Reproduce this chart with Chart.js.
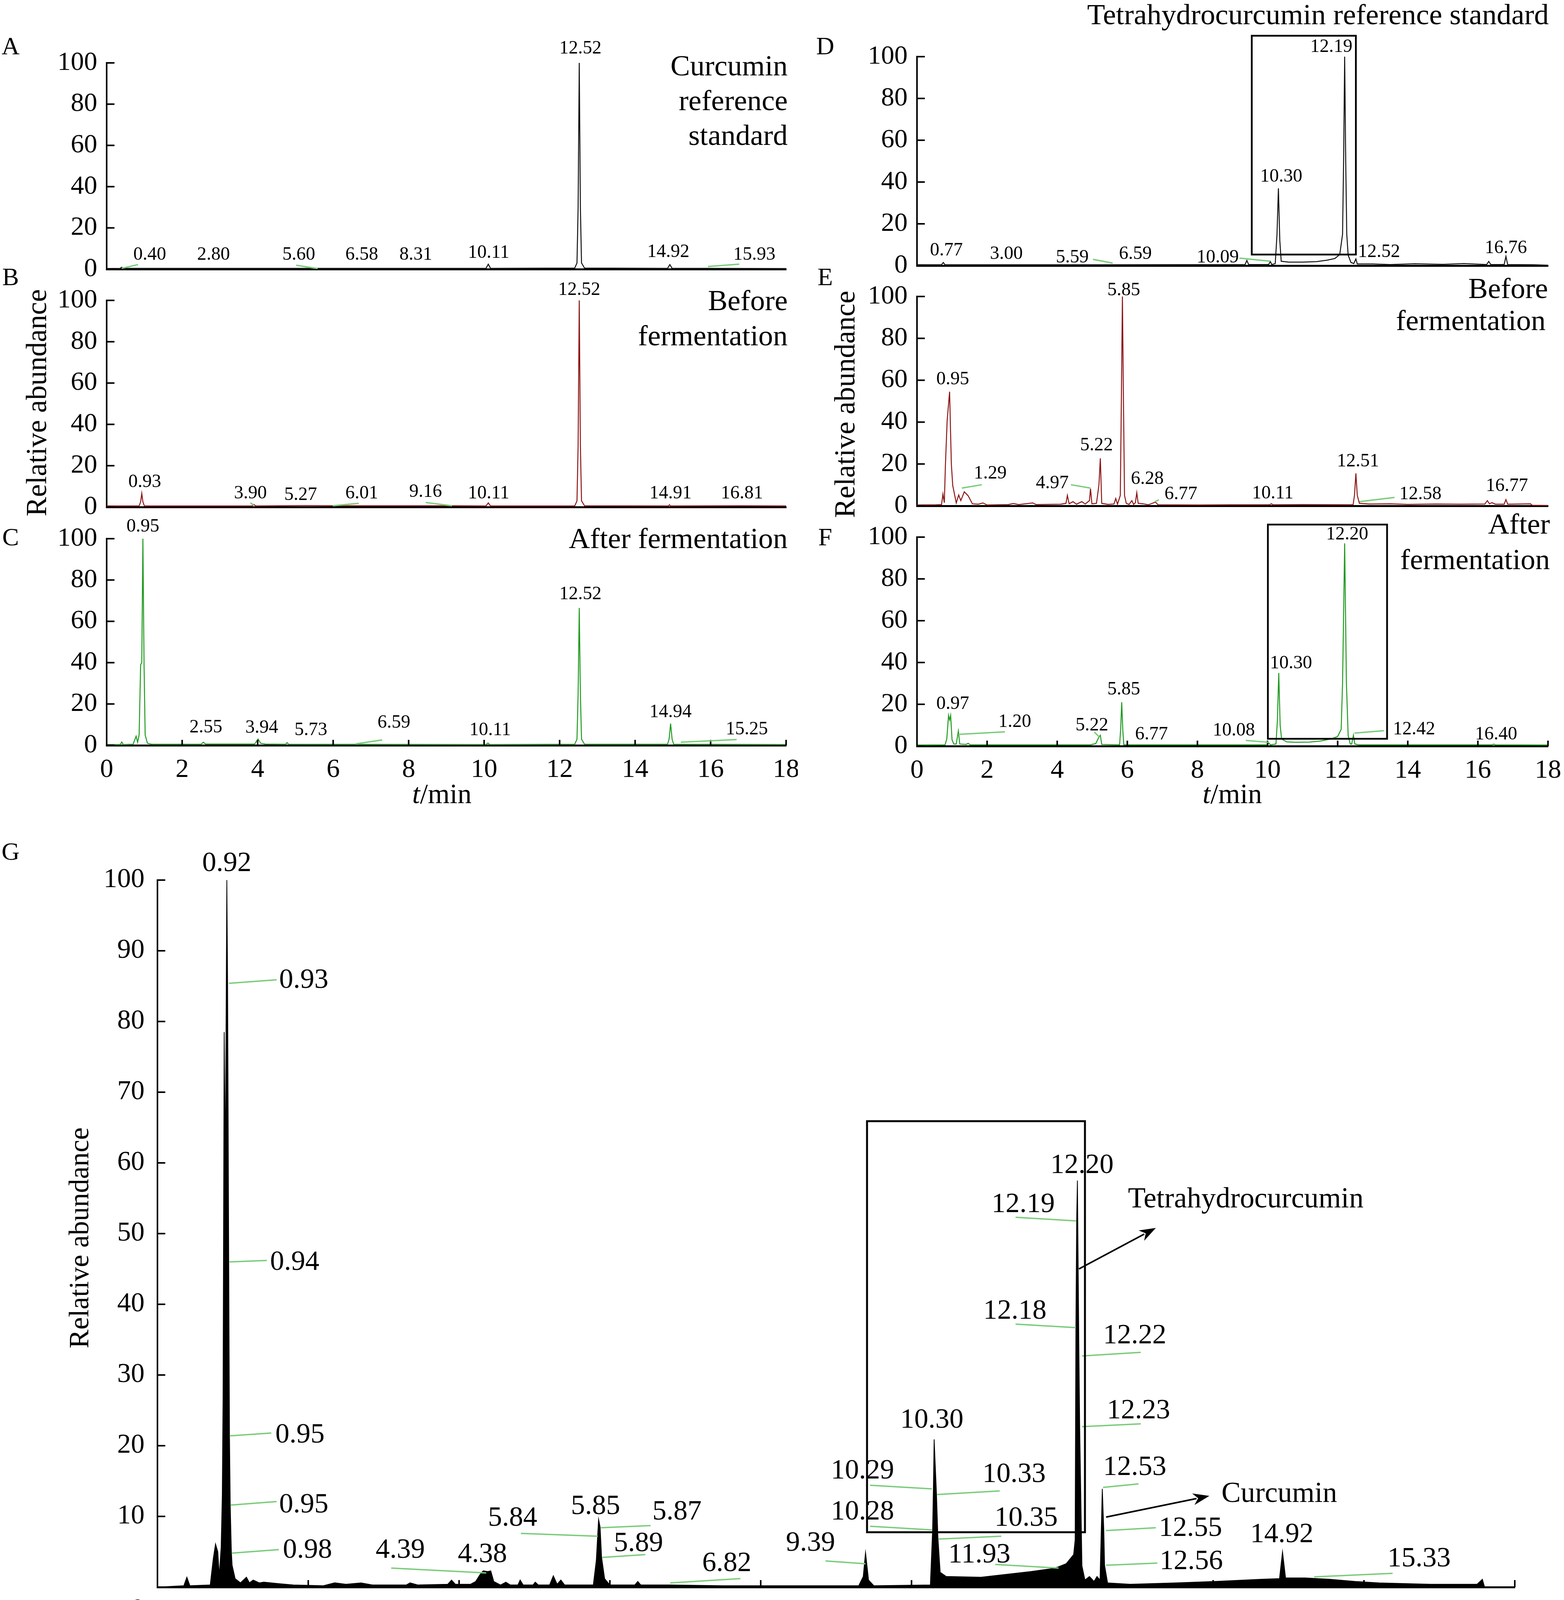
<!DOCTYPE html>
<html>
<head>
<meta charset="utf-8">
<script src="https://cdn.jsdelivr.net/npm/chart.js@4.4.1/dist/chart.umd.min.js"></script>
<style>
  body { margin: 0; background: #fff; width: 4003px; height: 4256px; position: relative; overflow: hidden; }
  canvas { position: absolute; }
</style>
</head>
<body>
<script>
'use strict';

// ---- data: traces as [t (min), relative abundance] ----
var traceA = [[0,0.3],[0.36,0.4],[0.40,0.9],[0.44,0.4],[2.8,0.4],[5.6,0.4],[6.58,0.4],[8.31,0.4],[10.05,0.4],[10.11,2.4],[10.17,0.4],
  [12.40,0.5],[12.46,3],[12.49,30],[12.52,100],[12.55,30],[12.58,3],[12.66,0.5],[14.86,0.4],[14.92,2.2],[14.98,0.4],[15.93,0.4],[18,0.3]];
var traceB = [[0,0.5],[0.86,0.5],[0.90,2.5],[0.93,6.6],[0.96,2.5],[1.0,0.5],[3.85,0.5],[3.90,1.2],[3.95,0.5],[5.27,0.7],[6.01,0.6],[9.16,0.6],
  [10.05,0.5],[10.11,2.0],[10.17,0.5],[12.40,0.5],[12.46,3],[12.49,30],[12.52,100],[12.55,30],[12.58,3],[12.66,0.6],[14.88,0.5],[14.91,1.1],
  [14.94,0.5],[16.81,0.6],[18,0.5]];
var traceC = [[0,0.4],[0.36,0.4],[0.40,1.6],[0.44,0.4],[0.70,0.5],[0.78,4.4],[0.82,1.5],[0.86,5],[0.90,39],[0.93,40],[0.96,100],[0.99,40],
  [1.02,5],[1.08,1],[1.2,0.5],[2.50,0.5],[2.56,1.5],[2.62,0.6],[3.92,0.6],[4.01,3.0],[4.08,1],[4.2,0.6],[4.74,0.5],[4.78,1.3],[4.82,0.5],
  [10.05,0.4],[10.10,1.1],[10.15,0.4],[12.40,0.5],[12.46,3],[12.49,25],[12.52,66.5],[12.55,25],[12.58,3],[12.66,0.5],[14.86,0.5],[14.90,3],
  [14.94,10.5],[14.98,3],[15.02,0.5],[18,0.4]];
var traceD = [[0,0.4],[0.70,0.4],[0.75,1.5],[0.80,0.4],[3.0,0.4],[5.59,0.4],[9.36,0.5],[9.41,2.5],[9.46,0.5],[10.03,0.5],[10.08,2],[10.12,0.5],
  [10.22,1],[10.27,15],[10.31,37],[10.35,12],[10.39,2.1],[10.6,1.7],[11.0,1.7],[11.4,1.9],[11.7,2.6],[11.92,3.4],[12.06,5.3],[12.14,15],
  [12.17,50],[12.20,100],[12.23,50],[12.26,15],[12.30,5],[12.38,1.5],[12.46,1],[12.52,3.2],[12.56,0.8],[13.0,0.8],[13.5,0.5],[14.2,0.9],
  [15.0,0.6],[15.6,1.0],[16.0,0.7],[16.25,0.5],[16.31,2],[16.37,0.5],[16.75,0.5],[16.80,4.4],[16.85,0.5],[17.6,0.4],[18,0.2]];
var traceE = [[0,0.4],[0.55,0.5],[0.70,0.6],[0.74,5.6],[0.78,1.5],[0.81,19],[0.86,40.6],[0.93,54.5],[0.98,20],[1.02,9.7],[1.12,1.4],[1.19,5.2],
  [1.25,2.5],[1.35,6.7],[1.46,4.8],[1.58,1.0],[1.75,0.8],[1.88,1.4],[2.0,0.4],[2.6,0.6],[2.75,1.1],[2.9,0.6],[3.3,1.4],[3.4,0.6],[3.7,0.7],
  [4.1,0.8],[4.25,1.2],[4.29,5.0],[4.34,1.0],[4.45,2.0],[4.55,0.8],[4.70,2.0],[4.80,0.9],[4.92,2.5],[4.95,8.2],[4.99,1.0],[5.12,1.2],[5.19,10],
  [5.23,22.7],[5.27,1.2],[5.45,0.7],[5.62,0.9],[5.67,3.5],[5.72,0.8],[5.80,5],[5.83,50],[5.86,100],[5.89,50],[5.92,5],[5.97,1.2],[6.05,0.7],
  [6.13,2.5],[6.18,0.7],[6.23,1.5],[6.27,6.3],[6.31,1.2],[6.45,1.0],[6.6,0.5],[6.80,1.8],[6.88,0.5],[8.0,0.4],[9.0,0.5],[10.05,0.5],[10.11,1.0],
  [10.16,0.5],[11.0,0.6],[12.44,0.5],[12.48,5],[12.52,15.5],[12.56,5],[12.62,1.2],[12.9,0.9],[13.5,1.0],[14.0,0.7],[14.8,0.9],[15.5,0.8],
  [16.2,0.9],[16.27,2.5],[16.33,1.0],[16.40,1.5],[16.5,0.8],[16.75,0.8],[16.80,3.0],[16.85,0.8],[17.5,1.0],[17.55,0.3],[18,0.2]];
var traceF = [[0,0.5],[0.80,0.6],[0.85,3.4],[0.90,14.7],[0.93,12.5],[0.96,14.7],[1.00,3],[1.05,1.0],[1.12,1.0],[1.18,7.2],[1.22,1.0],[1.40,0.8],
  [1.46,1.3],[1.52,0.6],[4.95,0.6],[5.10,1.2],[5.18,4],[5.23,5.2],[5.27,0.8],[5.78,0.6],[5.81,8],[5.84,21],[5.87,8],[5.90,0.6],[10.0,0.6],
  [10.04,1.5],[10.08,0.6],[10.24,1.0],[10.28,12],[10.32,35],[10.36,10],[10.40,3.4],[10.55,2.0],[10.8,1.8],[11.2,1.9],[11.5,2.4],[11.8,3.4],
  [12.0,4.6],[12.1,8],[12.14,30],[12.20,97],[12.25,30],[12.30,5],[12.36,1.0],[12.40,1.0],[12.45,5.2],[12.49,1.0],[12.6,0.6],[16.40,0.6],
  [16.45,0.9],[16.50,0.6],[18,0.5]];
var traceG = [[0,0],[0.35,0.2],[0.39,1.4],[0.43,0.2],[0.70,0.3],[0.74,4],[0.77,6.1],[0.80,5.0],[0.82,1.6],[0.845,5.7],[0.86,13],[0.87,26.8],
  [0.885,78.5],[0.90,59],[0.92,100],[0.93,85.6],[0.945,46],[0.955,21.5],[0.965,11.6],[0.98,5],[0.99,3.1],[1.03,1.2],[1.10,0.6],[1.18,1.4],
  [1.22,0.6],[1.27,1.0],[1.35,0.6],[1.41,0.7],[1.6,0.5],[1.8,0.3],[2.2,0.2],[2.35,0.6],[2.5,0.4],[2.7,0.6],[2.85,0.3],[3.3,0.3],[3.35,0.6],
  [3.45,0.3],[3.85,0.4],[3.9,1.0],[3.95,0.4],[4.15,0.4],[4.22,0.8],[4.28,1.8],[4.32,2.3],[4.38,2.2],[4.42,2.3],[4.46,0.8],[4.55,0.3],[4.62,0.7],
  [4.68,0.3],[4.78,0.3],[4.81,1.0],[4.85,0.3],[4.98,0.3],[5.01,0.7],[5.05,0.3],[5.2,0.3],[5.25,1.6],[5.30,0.4],[5.35,1.0],[5.40,0.3],[5.78,0.3],
  [5.82,3.8],[5.85,9.6],[5.87,8.5],[5.89,4.2],[5.93,1.2],[6.0,0.3],[6.33,0.3],[6.37,0.8],[6.41,0.3],[6.8,0.3],[7.5,0.2],[9.30,0.2],[9.36,1.5],
  [9.39,4.9],[9.43,1.0],[9.50,0.2],[10.25,0.3],[10.28,8.1],[10.29,13.9],[10.30,20.9],[10.33,13.4],[10.35,7],[10.38,2.1],[10.46,1.5],
  [10.92,1.4],[11.25,1.8],[11.58,2.2],[11.85,2.6],[11.93,2.8],[12.05,3.3],[12.15,4.6],[12.17,6.7],[12.18,36.7],[12.19,51.8],[12.20,57.5],
  [12.22,32.9],[12.23,22.7],[12.26,3],[12.30,1.0],[12.36,1.5],[12.42,0.8],[12.46,1.5],[12.50,1.0],[12.53,13.9],[12.55,8.0],[12.56,3.1],
  [12.60,0.6],[12.9,0.4],[13.5,0.6],[14.03,0.8],[14.63,1.1],[14.88,1.2],[14.92,5.0],[14.96,1.3],[15.22,1.3],[15.55,1.1],[15.88,0.8],[16.2,0.6],
  [16.88,0.4],[17.50,0.4],[17.57,1.1],[17.60,0],[18,0]];

// peak labels: [text, t, abundance]
var labelsA = [['0.40',1.14,7],['2.80',2.83,7],['5.60',5.09,7],['6.58',6.76,7],['8.31',8.19,7],['10.11',10.12,7.8],['12.52',12.55,107],
  ['14.92',14.88,8.3],['15.93',17.16,7]];
var labelsB = [['0.93',1.01,12],['3.90',3.81,6.6],['5.27',5.14,5.8],['6.01',6.76,6.6],['9.16',8.45,7.3],['10.11',10.12,6.6],['12.52',12.52,105],
  ['14.91',14.94,6.6],['16.81',16.83,6.6]];
var labelsC = [['0.95',0.96,105.7],['2.55',2.63,8.7],['3.94',4.11,8.5],['5.73',5.41,7.3],['6.59',7.61,10.8],['10.11',10.16,7.3],['12.52',12.55,73],
  ['14.94',14.94,15.9],['15.25',16.96,7.6]];
var labelsD = [['0.77',0.84,7.3],['3.00',2.55,5.6],['5.59',4.43,3.9],['6.59',6.23,5.6],['10.09',8.58,3.9],['10.30',10.39,42.5],['12.19',11.82,104.6],
  ['12.52',13.18,6.4],['16.76',16.8,8.4]];
var labelsE = [['0.95',1.02,60.4],['1.29',2.09,15.5],['4.97',3.86,10.7],['5.22',5.12,28.8],['5.85',5.9,103],['6.28',6.57,12.8],['6.77',7.53,5.6],
  ['10.11',10.15,5.9],['12.51',12.58,21.2],['12.58',14.36,5.6],['16.77',16.83,9.4]];
var labelsF = [['0.97',1.02,20.1],['1.20',2.79,11.5],['5.22',4.99,9.9],['5.85',5.9,27.1],['6.77',6.69,5.6],['10.08',9.04,7.4],['10.30',10.67,39.6],
  ['12.20',12.27,101.2],['12.42',14.18,7.9],['16.40',16.52,5.6]];
var labelsG = [['0.92',0.92,102.3],['0.93',1.94,85.8],['0.94',1.82,45.9],['0.95',1.89,21.5],['0.95',1.94,11.6],['0.98',1.99,5.2],['4.39',3.22,5.2],
  ['4.38',4.31,4.6],['5.84',4.71,9.7],['5.85',5.81,11.4],['5.87',6.89,10.6],['5.89',6.38,6.1],['6.82',7.55,3.3],['9.39',8.66,6.2],
  ['10.30',10.27,23.6],['10.29',9.35,16.4],['10.33',11.36,15.9],['10.28',9.35,10.6],['10.35',11.52,9.7],['11.93',10.9,4.5],['12.20',12.26,59.6],
  ['12.19',11.48,54.1],['12.18',11.37,39],['12.22',12.96,35.5],['12.23',13.01,24.9],['12.53',12.96,16.9],['12.55',13.7,8.3],['12.56',13.71,3.6],
  ['14.92',14.91,7.4],['15.33',16.73,4.0]];

// green leader lines: [t1, v1, t2, v2]
var leadersA = [[0.40,0.4,0.83,2.2],[5.02,1.9,5.59,0.3],[15.93,1.3,16.76,2.4]];
var leadersB = [[3.81,2.0,3.9,0.8],[5.99,0.6,6.68,1.8],[8.45,2.2,9.15,0.6]];
var leadersC = [[6.6,0.7,7.3,2.6],[15.21,1.5,16.69,2.8]];
var leadersD = [[5.02,3.0,5.58,1.2],[9.2,3.6,10.08,2.1]];
var leadersE = [[1.28,8.5,1.85,10.1],[4.39,10.1,4.95,8.5],[6.79,2.0,6.9,2.9],[12.62,2.0,13.62,4.0]];
var leadersF = [[1.18,5.6,2.51,6.8],[5.06,6.7,5.2,4.4],[9.38,2.7,10.04,1.8],[12.48,6.2,13.32,7.4]];
var leadersG = [[0.95,85.4,1.58,85.9],[0.955,46,1.45,46.2],[0.965,21.4,1.51,21.8],[0.97,11.6,1.58,12.1],[0.985,4.8,1.61,5.3],[3.1,2.7,4.36,2.0],
  [4.82,7.6,5.84,7.2],[5.88,8.4,6.54,8.7],[5.9,4.2,6.47,4.6],[6.8,0.6,7.73,1.2],[8.86,3.7,9.39,3.3],[9.45,14.4,10.27,13.9],[10.34,13.1,11.17,13.6],
  [9.45,8.6,10.27,8.1],[10.36,6.8,11.19,7.2],[11.11,3.2,11.95,2.7],[11.38,52.3,12.18,51.8],[11.38,37.2,12.18,36.7],[12.26,32.7,13.04,33.2],
  [12.26,22.7,13.04,23.1],[12.54,14.1,13.01,14.6],[12.58,8.0,13.24,8.4],[12.58,3.1,13.26,3.4],[15.34,1.45,16.38,1.95]];

// highlight boxes: [t1, t2, v1, v2]
var boxesD = [[9.55,12.52,5.3,110]];
var boxesF = [[10.01,13.41,3.5,106]];
var boxesG = [[9.41,12.30,7.76,65.9]];

// compound call-outs in G: [text, t, v] and arrows [t1, v1, t2, v2]
var namesG = [['Tetrahydrocurcumin',12.87,54.8],['Curcumin',14.11,13.1]];
var arrowsG = [[12.22,45,13.24,50.8],[12.58,9.9,13.95,12.9]];

var xTicksSmall = [0, 18, 2];
var yTicksSmall = [0, 100, 20];
var yTicksG = [0, 100, 10];

// ---- layout ----
var FONT = '"Liberation Serif", "Times New Roman", serif';
var BLACK = '#111', RED = '#8c1515', GREEN = '#1f9a1f', LEADER = '#78cc78';

var panels = [
  { name: 'A', trace: traceA, color: BLACK, labels: labelsA, leaders: leadersA, boxes: [],
    plot: [273,161,2012,689], m: [273,161,30,40], xTicks: false,
    letter: ['A',27,122], title: [['Curcumin',2016,193],['reference',2016,282],['standard',2016,371]] },
  { name: 'B', trace: traceB, color: RED, labels: labelsB, leaders: leadersB, boxes: [],
    plot: [273,769,2012,1298], m: [273,90,30,40], xTicks: false,
    letter: ['B',27,713], title: [['Before',2016,794],['fermentation',2016,884]], ylab: [99,1031] },
  { name: 'C', trace: traceC, color: GREEN, labels: labelsC, leaders: leadersC, boxes: [],
    plot: [273,1379,2012,1908], m: [273,70,30,180], xTicks: true,
    letter: ['C',27,1379], title: [['After fermentation',2016,1403]], xlab: [1131,2037] },
  { name: 'D', trace: traceD, color: BLACK, labels: labelsD, leaders: leadersD, boxes: boxesD,
    plot: [2347,145,3962,680], m: [267,145,41,40], xTicks: false,
    letter: ['D',2112,122], title: [['Tetrahydrocurcumin reference standard',3964,62]] },
  { name: 'E', trace: traceE, color: RED, labels: labelsE, leaders: leadersE, boxes: [],
    plot: [2347,759,3962,1295], m: [267,90,41,40], xTicks: false,
    letter: ['E',2112,713], title: [['Before',3962,763],['fermentation',3956,845]], ylab: [2168,1035] },
  { name: 'F', trace: traceF, color: GREEN, labels: labelsF, leaders: leadersF, boxes: boxesF,
    plot: [2347,1375,3962,1910], m: [267,80,41,180], xTicks: true,
    letter: ['F',2112,1379], title: [['After',3967,1366],['fermentation',3967,1457]], xlab: [3154,2037] },
  { name: 'G', trace: traceG, color: '#000', fill: true, labels: labelsG, leaders: leadersG, boxes: boxesG,
    names: namesG, arrows: arrowsG, big: true,
    plot: [403,2253,3877,4063], m: [403,110,80,193], xTicks: true,
    letter: ['G',27,2184], ylab: [207,3169], xlab: [2128,4211], zero: [352,4123] }
];

function line(ctx, x1, y1, x2, y2) {
  ctx.beginPath(); ctx.moveTo(x1, y1); ctx.lineTo(x2, y2); ctx.stroke();
}

function annotPlugin(p, cl, ct) {
  return {
    id: 'annot' + p.name,
    afterDraw: function(chart) {
      var ctx = chart.ctx, xs = chart.scales.x, ys = chart.scales.y, a = chart.chartArea;
      function px(t) { return xs.getPixelForValue(t); }
      function py(v) { return ys.getPixelForValue(v); }
      var big = !!p.big;
      ctx.save();
      ctx.strokeStyle = '#000';
      ctx.lineWidth = 4;
      // inward tick marks
      ys.ticks.forEach(function(tk) { var y = py(tk.value); line(ctx, a.left, y, a.left + 20, y); });
      if (p.xTicks) {
        xs.ticks.forEach(function(tk) { var x = px(tk.value); line(ctx, x, a.bottom, x, a.bottom - (big ? 18 : 14)); });
      }
      // leader lines
      ctx.strokeStyle = LEADER; ctx.lineWidth = 3.5;
      p.leaders.forEach(function(l) { line(ctx, px(l[0]), py(l[1]), px(l[2]), py(l[3])); });
      // boxes
      ctx.strokeStyle = '#000'; ctx.lineWidth = big ? 5 : 4.5;
      p.boxes.forEach(function(b) {
        ctx.strokeRect(px(b[0]), py(b[3]), px(b[1]) - px(b[0]), py(b[2]) - py(b[3]));
      });
      // arrows
      (p.arrows || []).forEach(function(r) {
        var x1 = px(r[0]), y1 = py(r[1]), x2 = px(r[2]), y2 = py(r[3]);
        var ang = Math.atan2(y2 - y1, x2 - x1), hl = 42, hw = 15;
        ctx.lineWidth = 4;
        line(ctx, x1, y1, x2 - Math.cos(ang) * hl * 0.8, y2 - Math.sin(ang) * hl * 0.8);
        ctx.beginPath();
        ctx.moveTo(x2, y2);
        ctx.lineTo(x2 - Math.cos(ang) * hl - Math.sin(ang) * hw, y2 - Math.sin(ang) * hl + Math.cos(ang) * hw);
        ctx.lineTo(x2 - Math.cos(ang) * hl * 0.7, y2 - Math.sin(ang) * hl * 0.7);
        ctx.lineTo(x2 - Math.cos(ang) * hl + Math.sin(ang) * hw, y2 - Math.sin(ang) * hl - Math.cos(ang) * hw);
        ctx.closePath();
        ctx.fillStyle = '#000';
        ctx.fill();
      });
      // peak labels
      ctx.fillStyle = '#000';
      ctx.textAlign = 'center'; ctx.textBaseline = 'middle';
      ctx.font = (big ? 72 : 48) + 'px ' + FONT;
      p.labels.forEach(function(l) { ctx.fillText(l[0], px(l[1]), py(l[2])); });
      // compound names
      ctx.textAlign = 'left'; ctx.font = '74px ' + FONT;
      (p.names || []).forEach(function(n) { ctx.fillText(n[0], px(n[1]), py(n[2])); });
      // panel letter
      ctx.textAlign = 'center'; ctx.font = '64px ' + FONT;
      ctx.fillText(p.letter[0], p.letter[1] - cl, p.letter[2] - ct);
      // panel title
      ctx.textAlign = 'right'; ctx.textBaseline = 'alphabetic'; ctx.font = '75px ' + FONT;
      (p.title || []).forEach(function(t) { ctx.fillText(t[0], t[1] - cl, t[2] - ct); });
      // G: the x origin label sits left of the axis
      if (p.zero) {
        ctx.textAlign = 'center'; ctx.textBaseline = 'middle'; ctx.font = '70px ' + FONT;
        ctx.fillText('0', p.zero[0] - cl, p.zero[1] - ct);
      }
      // y title
      if (p.ylab) {
        ctx.save();
        ctx.translate(p.ylab[0] - cl, p.ylab[1] - ct);
        ctx.rotate(-Math.PI / 2);
        ctx.textAlign = 'center'; ctx.textBaseline = 'middle'; ctx.font = (big ? 72 : 74) + 'px ' + FONT;
        ctx.fillText('Relative abundance', 0, 0);
        ctx.restore();
      }
      // x title: italic t + /min
      if (p.xlab) {
        ctx.textBaseline = 'middle'; ctx.textAlign = 'left';
        var fi = 'italic 72px ' + FONT, fr = '72px ' + FONT;
        ctx.font = fi; var w1 = ctx.measureText('t').width;
        ctx.font = fr; var w2 = ctx.measureText('/min').width;
        var x0 = p.xlab[0] - cl - (w1 + w2) / 2, y0 = p.xlab[1] - ct;
        ctx.font = fi; ctx.fillText('t', x0, y0);
        ctx.font = fr; ctx.fillText('/min', x0 + w1, y0);
      }
      ctx.restore();
    }
  };
}

function makePanel(p) {
  var cl = p.plot[0] - p.m[0], ct = p.plot[1] - p.m[1];
  var cw = p.plot[2] - p.plot[0] + p.m[0] + p.m[2];
  var ch = p.plot[3] - p.plot[1] + p.m[1] + p.m[3];
  var cv = document.createElement('canvas');
  cv.width = cw; cv.height = ch;
  cv.style.left = cl + 'px'; cv.style.top = ct + 'px';
  cv.style.width = cw + 'px'; cv.style.height = ch + 'px';
  document.body.appendChild(cv);

  var big = !!p.big;
  var yt = big ? yTicksG : yTicksSmall;
  var hideZero = function(v) { return (big && v === 0) ? '' : v; };

  new Chart(cv, {
    type: 'line',
    data: {
      datasets: [{
        data: p.trace.map(function(d) { return { x: d[0], y: d[1] }; }),
        borderColor: p.color,
        backgroundColor: p.color,
        borderWidth: big ? 2 : 2.5,
        fill: p.fill ? 'origin' : false,
        pointRadius: 0,
        tension: 0
      }]
    },
    options: {
      responsive: false,
      animation: false,
      devicePixelRatio: 1,
      events: [],
      layout: { autoPadding: false, padding: { left: 0, top: p.m[1], right: p.m[2], bottom: 0 } },
      plugins: { legend: { display: false }, tooltip: { enabled: false } },
      scales: {
        x: {
          type: 'linear', min: xTicksSmall[0], max: xTicksSmall[1],
          ticks: { display: p.xTicks, stepSize: xTicksSmall[2], autoSkip: false, maxRotation: 0, color: '#000',
            padding: 22, font: { family: FONT, size: big ? 70 : 68 }, callback: hideZero },
          grid: { display: false, drawTicks: false },
          border: { display: true, color: '#000', width: 5 },
          afterFit: function(s) { s.height = p.m[3]; s.paddingLeft = 0; s.paddingRight = 0; }
        },
        y: {
          min: yt[0], max: yt[1],
          ticks: { stepSize: yt[2], autoSkip: false, color: '#000', padding: big ? 33 : 24,
            font: { family: FONT, size: big ? 70 : 68 }, callback: hideZero },
          grid: { display: false, drawTicks: false },
          border: { display: true, color: '#000', width: 4 },
          afterFit: function(s) { s.width = p.m[0]; s.paddingTop = 0; s.paddingBottom = 0; }
        }
      }
    },
    plugins: [annotPlugin(p, cl, ct)]
  });
}

panels.forEach(makePanel);
</script>
</body>
</html>
